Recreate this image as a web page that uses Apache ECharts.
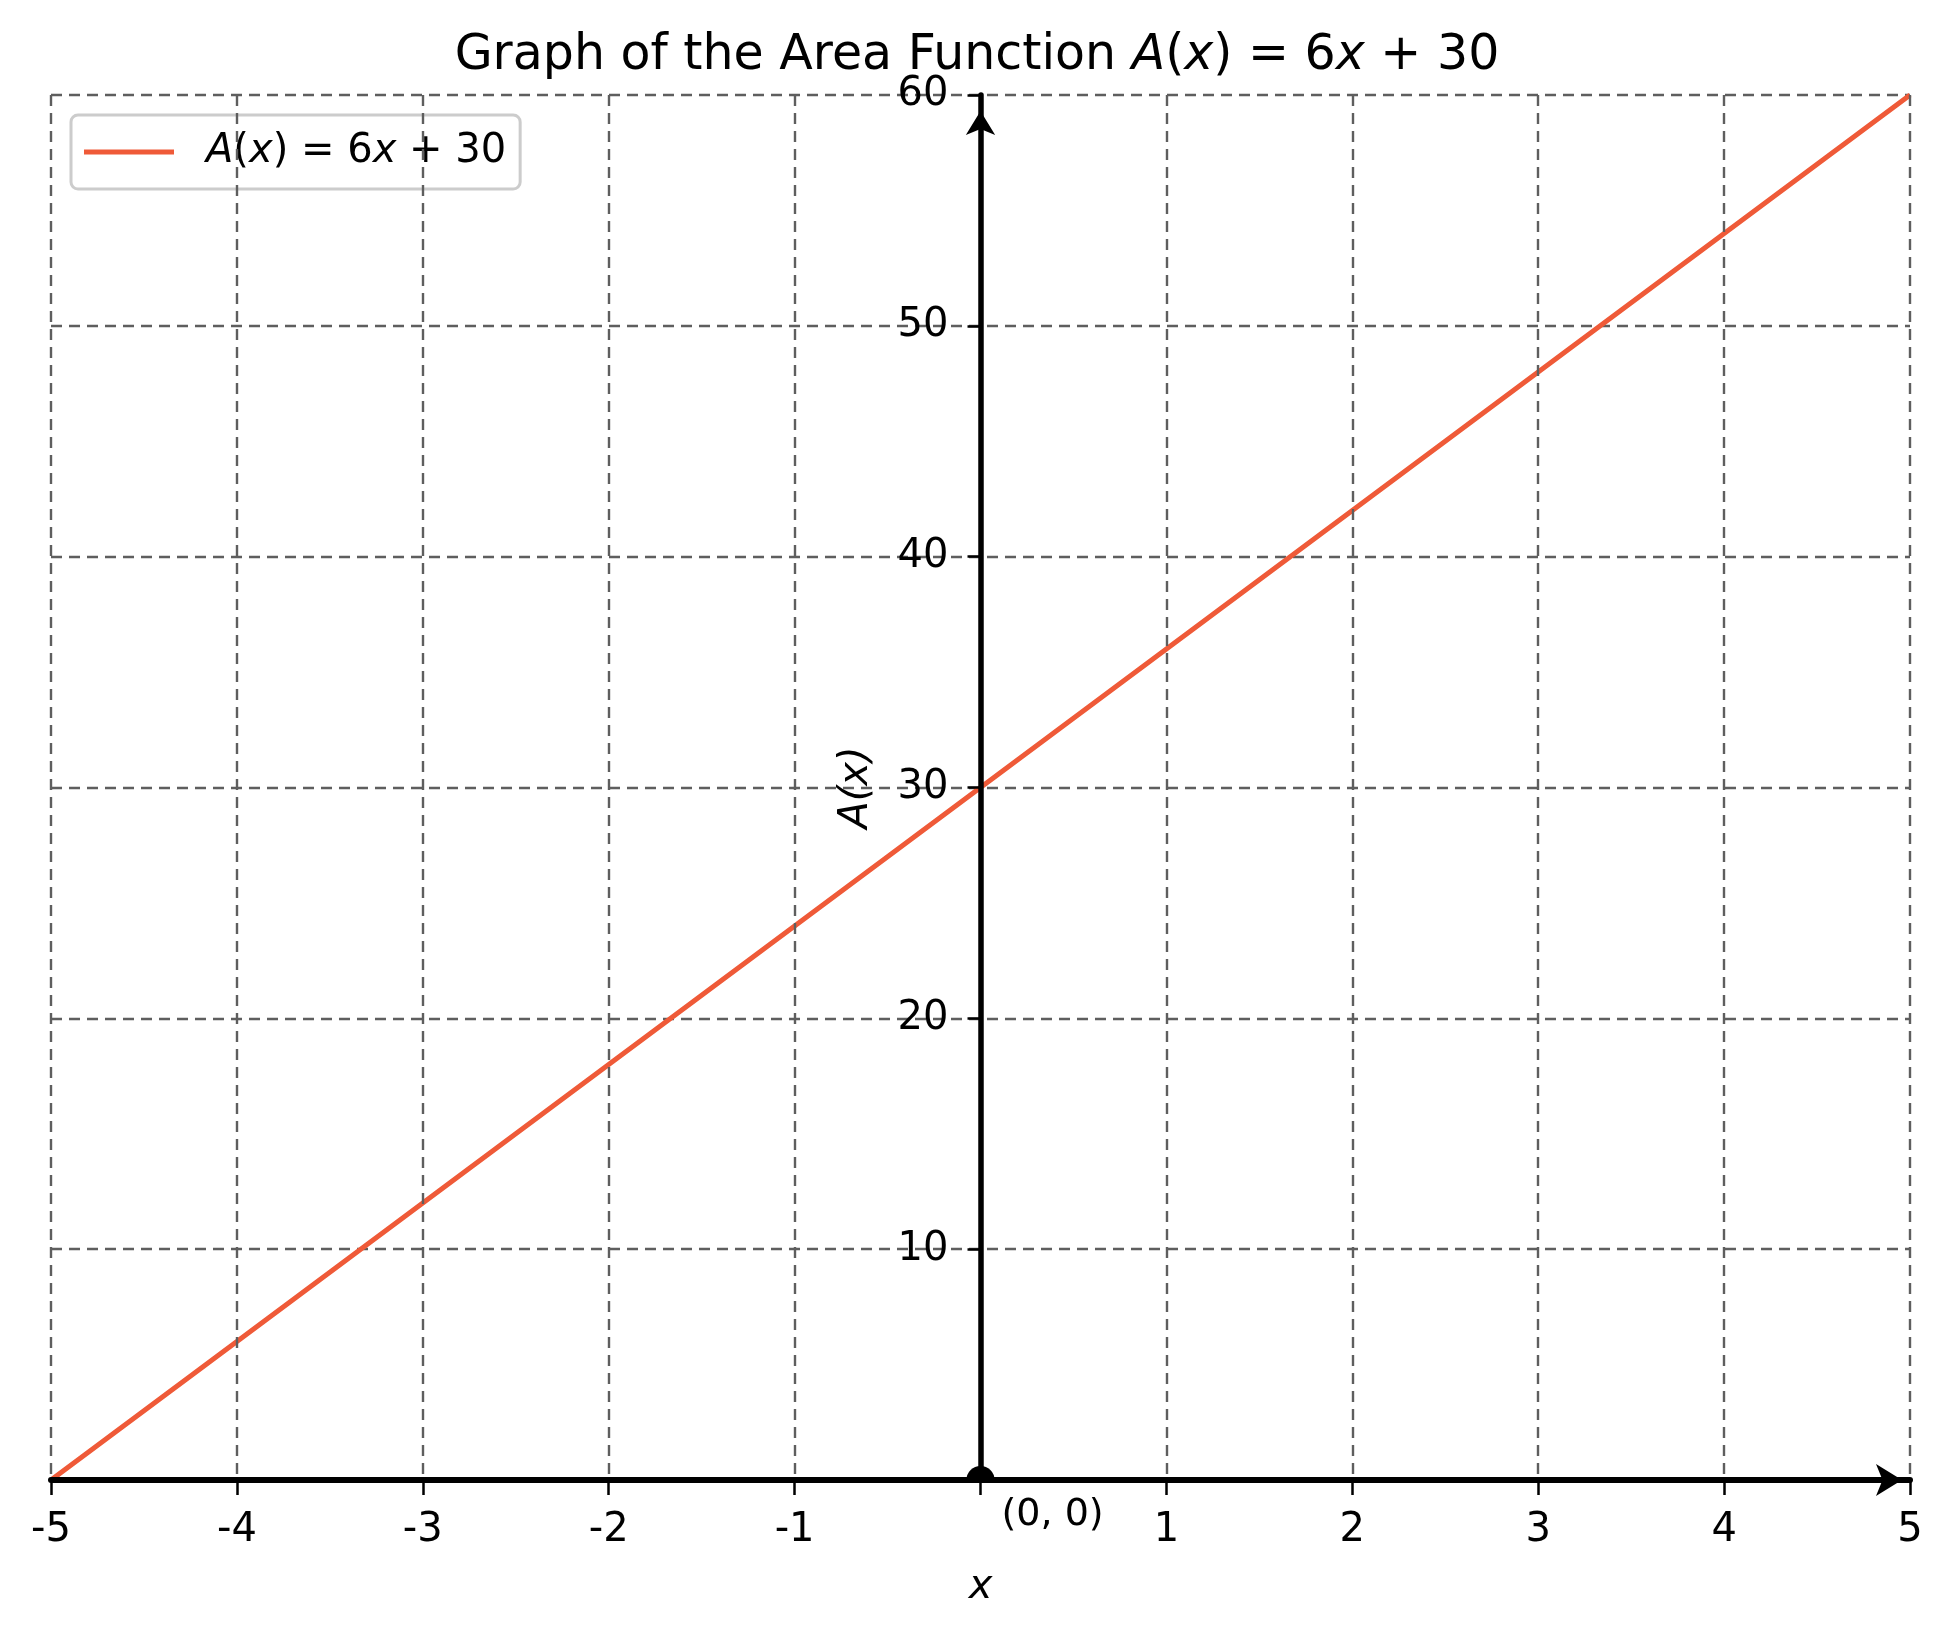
<!DOCTYPE html>
<html>
<head>
<meta charset="utf-8">
<script src="https://cdn.jsdelivr.net/npm/echarts@6/dist/echarts.min.js"></script>
<style>
html,body{margin:0;padding:0;background:#fff;}
#chart{width:1954px;height:1640px;}
</style>
</head>
<body>
<div id="chart"></div>
<script>
// Data
const xValues = [-5, -4, -3, -2, -1, 0, 1, 2, 3, 4, 5];
const areaValues = [0, 6, 12, 18, 24, 30, 36, 42, 48, 54, 60];
const originPoint = [0, 0];
const originLabel = '(0, 0)';
const seriesName = 'A(x) = 6x + 30';
const titleText = 'Graph of the Area Function {i|A}({i|x}) = 6{i|x} + 30';
const legendText = '{i|A}({i|x}) = 6{i|x} + 30';
const xMin = -5, xMax = 5, xStep = 1;
const yMin = 0, yMax = 60, yStep = 10;

const FONT = 'DejaVu Sans';
const W = 1954;
const chart = echarts.init(document.getElementById('chart'), null, {renderer: 'canvas'});

// layout of the plotting box
const gl = 51, gr = 44, gt = 95, gb = 160;
// second grid starting where x = 0 lies, so its y axis sits on x = 0
const zeroLeft = gl + (W - gl - gr) * (0 - xMin) / (xMax - xMin);

const gridLine = {show: true, lineStyle: {color: '#5e5e5e', width: 2.4, type: [11, 7]}};
const hideZero = function (v) { return v === 0 ? '' : String(v); };

chart.setOption({
  animation: false,
  backgroundColor: '#ffffff',
  title: {
    text: titleText,
    left: 'center',
    top: 32,
    padding: 0,
    textStyle: {
      fontFamily: FONT, fontSize: 49, fontWeight: 'normal', color: '#000',
      rich: {i: {fontFamily: FONT, fontSize: 49, fontStyle: 'italic', color: '#000'}}
    }
  },
  legend: {
    left: 71, top: 115,
    orient: 'vertical',
    padding: [17, 14, 17, 13],
    backgroundColor: '#ffffff',
    borderColor: '#cccccc', borderWidth: 3, borderRadius: 7,
    itemWidth: 90, itemHeight: 5,
    data: [{name: seriesName, icon: 'rect'}],
    formatter: function () { return legendText; },
    textStyle: {
      fontFamily: FONT, fontSize: 40, color: '#000', padding: [0, 0, 0, 27],
      rich: {i: {fontFamily: FONT, fontSize: 40, fontStyle: 'italic', color: '#000'}}
    }
  },
  grid: [
    {left: gl, right: gr, top: gt, bottom: gb, containLabel: false, outerBoundsMode: 'none'},
    {left: zeroLeft, right: gr, top: gt, bottom: gb, containLabel: false, outerBoundsMode: 'none'}
  ],
  xAxis: [
    {
      gridIndex: 0,
      type: 'value', min: xMin, max: xMax, interval: xStep,
      name: 'x', nameLocation: 'middle', nameGap: 88,
      nameTextStyle: {fontFamily: FONT, fontSize: 40, fontStyle: 'italic', color: '#000'},
      axisLine: {onZero: true, symbol: ['none', 'arrow'], symbolSize: [24, 26], symbolOffset: [0, -8],
        lineStyle: {color: '#000', width: 6}},
      axisTick: {show: true, length: 15, lineStyle: {color: '#000', width: 2.5}},
      axisLabel: {fontFamily: FONT, fontSize: 40, color: '#000', margin: 31, formatter: hideZero},
      splitLine: gridLine,
      z: 5
    },
    {
      gridIndex: 1,
      type: 'value', min: 0, max: xMax, show: false
    }
  ],
  yAxis: [
    {
      gridIndex: 0,
      type: 'value', min: yMin, max: yMax, interval: yStep,
      axisLine: {show: false},
      axisTick: {show: false},
      axisLabel: {show: false},
      splitLine: gridLine
    },
    {
      gridIndex: 1,
      type: 'value', min: yMin, max: yMax, interval: yStep,
      position: 'left',
      name: 'A(x)', nameLocation: 'middle', nameGap: 104,
      nameTextStyle: {fontFamily: FONT, fontSize: 40, fontStyle: 'italic', color: '#000'},
      axisLine: {show: true, onZero: false, symbol: ['none', 'arrow'], symbolSize: [22, 24], symbolOffset: [0, -16],
        lineStyle: {color: '#000', width: 5.5}},
      axisTick: {show: true, length: 13, lineStyle: {color: '#000', width: 2.5}},
      axisLabel: {fontFamily: FONT, fontSize: 40, color: '#000', margin: 32, formatter: hideZero},
      splitLine: {show: false},
      z: 5
    }
  ],
  series: [
    {
      name: seriesName,
      type: 'line',
      xAxisIndex: 0, yAxisIndex: 0,
      data: xValues.map((x, i) => [x, areaValues[i]]),
      showSymbol: false,
      symbol: 'none',
      color: '#ef5a38',
      lineStyle: {color: '#ef5a38', width: 5},
      z: 3
    },
    {
      name: 'origin',
      type: 'scatter',
      xAxisIndex: 0, yAxisIndex: 0,
      data: [originPoint],
      symbol: 'path://M0 10 A10 10 0 0 1 20 10 Z',
      symbolSize: [28, 14],
      symbolOffset: [0, '-50%'],
      itemStyle: {color: '#000', opacity: 1},
      label: {
        show: true, position: 'right', distance: 7, offset: [0, 42],
        formatter: originLabel,
        fontFamily: FONT, fontSize: 38, color: '#000', opacity: 1
      },
      emphasis: {disabled: true},
      z: 10
    }
  ]
});
</script>
</body>
</html>
